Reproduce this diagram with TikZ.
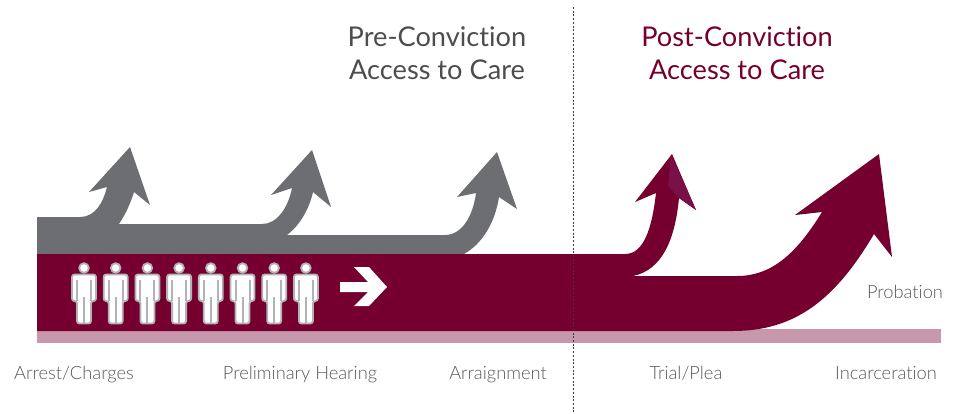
\documentclass[tikz,border=0pt]{standalone}
\usepackage{fontspec}
\setmainfont[Ligatures=NoCommon]{Lato}
\newfontfamily\lightface[Ligatures=NoCommon]{Lato Light}
\usepackage{tikz}
\definecolor{maroon}{HTML}{75002F}
\definecolor{slate}{HTML}{6D6E71}
\definecolor{blush}{HTML}{C798AB}
\definecolor{plum}{HTML}{7A1048}
\definecolor{inktext}{HTML}{4D4D4F}
\definecolor{stagetext}{HTML}{58595B}
\definecolor{personline}{HTML}{B1B3B6}
\definecolor{divline}{HTML}{3A3A3C}
\tikzset{
	title/.style={align=center, font=\fontsize{27.2}{33}\selectfont},
	stage/.style={anchor=base, text=stagetext, font=\lightface\fontsize{18.3}{20}\selectfont},
	person/.pic={
		\draw[draw=personline, fill=white, line width=1.8pt, rounded corners=2.5pt]
			(-12,274.5) -- (12,274.5) -- (12,301) -- (7,301) -- (7,323.5) -- (-7,323.5) -- (-7,301) -- (-12,301) -- cycle;
		\draw[draw=personline, fill=white, line width=1.8pt] (0,268) circle (4.8);
		\draw[draw=personline, line width=2pt] (-7,280) -- (-7,301) (7,280) -- (7,301) (0,297) -- (0,323);
	}
}
\begin{document}
\begin{tikzpicture}[x=1pt, y=-1pt]
	\useasboundingbox (0,0) rectangle (956,413);
	\fill[blush] (37,329) rectangle (941,343);
	\fill[slate] (37,217) -- (80,217) .. controls (95,217) and (103,203) .. (107,187)
		-- (89,192) -- (130,147) -- (150,205) -- (134,192)
		.. controls (130,205) and (125,215) .. (119,224)
		-- (262,224) .. controls (277,224) and (288,208) .. (292,188)
		-- (271,195) -- (312,150) -- (331,207) -- (313,192)
		.. controls (309,210) and (299,226) .. (287,235)
		-- (445,235) .. controls (462,235) and (473,216) .. (476,193)
		-- (457,197) -- (497,152) -- (517,209) -- (499,197)
		.. controls (495,223) and (482,244) .. (464,254)
		-- (37,254) -- cycle;
	\fill[maroon] (37,254) -- (625,254) .. controls (644,254) and (652,228) .. (656,193)
		-- (635,202) -- (672,154) -- (696,210) -- (679,198)
		.. controls (675,240) and (662,270) .. (633,276)
		-- (737,276) .. controls (770,276) and (795,256) .. (822,212)
		-- (795,215) -- (879,154) -- (892,257) -- (874,234)
		.. controls (835,300) and (795,331) .. (733,331)
		-- (37,331) -- cycle;
	\fill[plum] (671,155) -- (668,186) -- (679,198) -- (696,210) -- cycle;
	\fill[white] (340,282) -- (368,282) -- (354,267) -- (369,267) -- (387,287)
		-- (369,306) -- (354,306) -- (368,292) -- (340,292) -- cycle;
	\foreach \i in {0,...,7}
		\pic at ({84+31.7*\i},0) {person};
	\coordinate (divtop) at (573.5,7);
	\coordinate (divbot) at (573.5,412);
	\draw[divline, line width=1.8pt, dash pattern=on 2pt off 1.7pt] (divtop) -- (divbot);
	\node[title, text=inktext] (pre) at (437,53.5) {Pre-Conviction\\Access to Care};
	\node[title, text=maroon] (post) at (737,53.5) {Post-Conviction\\Access to Care};
	\node[stage] (arrest) at (74,379) {Arrest/Charges};
	\node[stage] (hearing) at (300,379) {Preliminary Hearing};
	\node[stage] (arraign) at (498,379) {Arraignment};
	\node[stage] (trial) at (686,379) {Trial/Plea};
	\node[stage] (incarc) at (886,379) {Incarceration};
	\node[stage] (probation) at (905,298) {Probation};
\end{tikzpicture}
\end{document}
